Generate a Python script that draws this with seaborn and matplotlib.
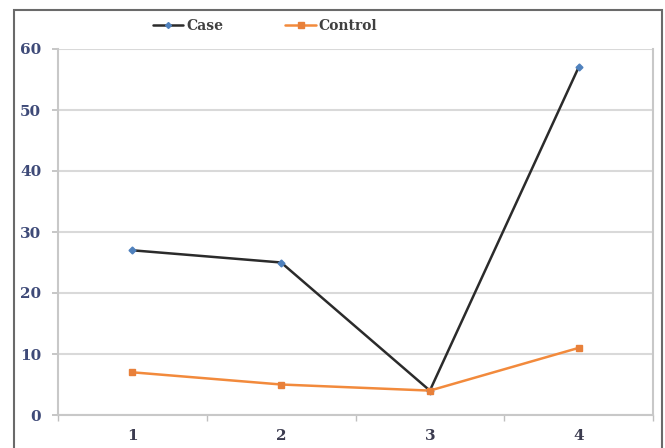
import matplotlib
matplotlib.use("Agg")
import matplotlib.pyplot as plt
import seaborn as sns
import pandas as pd
from matplotlib.patches import Rectangle
from matplotlib.lines import Line2D

categories = ["1", "2", "3", "4"]
case_values = [27, 25, 4, 57]
control_values = [7, 5, 4, 11]
series_names = ["Case", "Control"]
y_ticks = [0, 10, 20, 30, 40, 50, 60]

df = pd.DataFrame({
    "x": categories * 2,
    "value": case_values + control_values,
    "series": [series_names[0]] * 4 + [series_names[1]] * 4,
})

sns.set_theme(style="white")
plt.rcParams['font.family'] = ['DejaVu Serif', 'DejaVu Sans']

fig = plt.figure(figsize=(6.65, 4.48), dpi=100)
ax = fig.add_axes([58/665, 1-415/448, (653-58)/665, (415-49)/448])

line_colors = {"Case": "#2b2b2b", "Control": "#f28a3c"}
marker_colors = {"Case": "#4f81bd", "Control": "#e8803a"}
markers = {"Case": "D", "Control": "s"}
sizes = {"Case": 3.5, "Control": 5}

sns.lineplot(data=df, x="x", y="value", hue="series", palette=line_colors,
             ax=ax, legend=False, sort=False, linewidth=1.8)
for i, name in enumerate(series_names):
    vals = case_values if name == "Case" else control_values
    ax.plot(range(len(categories)), vals, linestyle="none", marker=markers[name],
            markersize=sizes[name], color=marker_colors[name], zorder=5)

ax.set_xlim(-0.5, 3.5)
ax.set_ylim(0, 60)
ax.set_yticks(y_ticks)
ax.set_xticks(range(len(categories)))
ax.set_xticklabels(categories)
ax.set_xticks([-0.5, 0.5, 1.5, 2.5, 3.5], minor=True)
ax.yaxis.grid(True, color="#d9d9d9", linewidth=1.5)
ax.set_axisbelow(True)
ax.set_xlabel("")
ax.set_ylabel("")

label_color = "#3e4a78"
ax.tick_params(axis="y", which="major", length=4, color="#bfbfbf", labelsize=11,
               labelcolor=label_color, pad=8, left=True)
ax.tick_params(axis="x", which="major", length=0, labelsize=11,
               labelcolor="#3b3b4f", pad=10)
ax.tick_params(axis="x", which="minor", length=4, color="#bfbfbf", bottom=True)
for lbl in ax.get_yticklabels() + ax.get_xticklabels():
    lbl.set_fontweight("bold")

for side, sp in ax.spines.items():
    sp.set_color("#c8c8c8")
    sp.set_linewidth(1.5)
ax.spines["top"].set_visible(False)

handles = [
    Line2D([0], [0], color=line_colors["Case"], lw=1.8, marker="D", markersize=3,
           markerfacecolor=marker_colors["Case"], markeredgecolor=marker_colors["Case"]),
    Line2D([0], [0], color=line_colors["Control"], lw=1.8, marker="s", markersize=4,
           markerfacecolor=marker_colors["Control"], markeredgecolor=marker_colors["Control"]),
]
leg = fig.legend(handles, series_names, loc="center", bbox_to_anchor=(265/665, 1-26/448),
                 ncol=2, frameon=False, handlelength=2.2, handletextpad=0.2,
                 columnspacing=4.5,
                 prop={"weight": "bold", "size": 10, "family": "DejaVu Serif"})
for t in leg.get_texts():
    t.set_color("#404040")

fig.patches.append(Rectangle((14/665, -0.05), (662-14)/665, 1.05 - 10/448,
                             transform=fig.transFigure, fill=False,
                             edgecolor="#6a6a6a", linewidth=1.5))

fig.savefig("out.png", dpi=100)
